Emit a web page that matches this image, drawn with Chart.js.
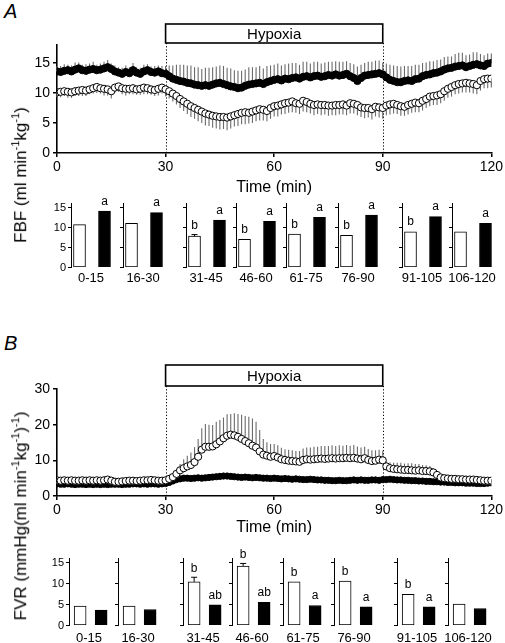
<!DOCTYPE html>
<html>
<head>
<meta charset="utf-8">
<script src="https://cdn.jsdelivr.net/npm/chart.js@4.4.1/dist/chart.umd.min.js"></script>
<style>
  body { margin:0; background:#fff; width:505px; height:643px; position:relative; overflow:hidden;
         font-family:"Liberation Sans", Arial, sans-serif; color:#000; }
  canvas { position:absolute; }
  .panel { position:absolute; font-style:italic; font-size:20px; color:#000; }
  .ytitle { position:absolute; white-space:nowrap; font-size:17px; color:#000; will-change:transform;
            transform:translate(-50%,-50%) rotate(-90deg); }
  .ytitle sup { font-size:11px; }
</style>
</head>
<body>
<div class="panel" style="left:4px;top:0px;">A</div>
<div class="panel" style="left:4px;top:332px;">B</div>
<div class="ytitle" style="left:20px;top:175px;">FBF (ml min<sup>-1</sup>kg<sup>-1</sup>)</div>
<div class="ytitle" style="left:20px;top:516px;">FVR (mmHg(ml min<sup>-1</sup>kg<sup>-1</sup>)<sup>-1</sup>)</div>

<canvas id="fbfTime" width="505" height="180" style="left:0;top:20px;"></canvas>
<canvas id="fvrTime" width="505" height="185" style="left:0;top:355px;"></canvas>

<script>
// ---- data ----
var hypoxiaRange = [30, 90];
var periods = ['0-15', '16-30', '31-45', '46-60', '61-75', '76-90', '91-105', '106-120'];
var barTicks = [0, 5, 10, 15];

// FBF time course, one value per minute (0..120)
var fbfOpen = [10.1,10.2,10.3,10.2,10.1,10.3,10.4,10.5,10.4,10.6,10.8,
  11.0,10.8,10.7,10.6,10.3,10.9,11.1,10.8,10.7,10.7,
  10.8,10.6,10.7,10.9,10.8,10.6,10.5,10.7,10.9,10.6,
  10.3,9.9,9.5,9.0,8.6,8.2,7.8,7.5,7.2,6.9,6.6,6.4,6.2,6.1,6.0,
  6.0,5.9,6.1,6.3,6.5,6.7,6.8,6.7,6.9,7.1,7.3,7.2,7.0,7.5,7.8,
  7.9,8.1,8.3,8.4,8.6,8.3,8.2,8.7,8.5,8.2,8.0,8.1,8.0,8.0,7.9,
  7.9,8.0,8.0,8.1,7.9,8.3,8.2,8.0,7.6,7.5,7.5,7.3,7.7,7.6,7.5,
  7.9,8.1,8.2,8.0,7.8,7.7,8.0,8.2,8.4,8.3,8.7,9.0,9.4,9.5,9.6,
  9.8,10.3,10.7,11.0,11.3,11.5,11.6,11.7,11.6,11.5,11.3,12.0,12.3,12.4,12.4];
var fbfOpenErr = [0.8,0.9,0.8,1.0,0.9,0.8,0.9,1.0,0.9,0.8,0.9,
  1.0,0.9,1.1,1.0,1.2,0.8,0.9,1.0,1.1,0.9,
  1.0,0.9,1.0,1.1,1.0,0.9,1.0,1.1,1.0,1.2,
  1.2,1.3,1.4,1.5,1.6,1.7,1.8,1.8,1.9,1.9,2.0,1.9,2.0,2.0,2.1,
  2.0,2.1,2.0,1.9,2.0,1.9,2.0,1.8,1.9,1.8,1.9,1.8,1.7,1.8,1.7,
  1.8,1.7,1.8,1.7,1.8,1.6,1.7,1.8,1.7,1.6,1.7,1.6,1.7,1.6,1.7,
  1.6,1.7,1.6,1.7,1.6,1.7,1.6,1.7,1.6,1.7,1.6,1.7,1.6,1.7,1.8,
  1.6,1.7,1.6,1.5,1.6,1.5,1.6,1.5,1.6,1.5,1.6,1.5,1.6,1.5,1.6,
  1.5,1.6,1.5,1.6,1.5,1.6,1.5,1.6,1.5,1.6,1.5,1.6,1.5,1.6,1.5];
var fbfFilled = [13.6,13.5,13.7,13.8,13.6,13.9,14.1,13.8,13.7,13.9,14.0,
  13.8,13.9,14.1,14.3,14.0,13.6,13.4,13.2,13.5,13.3,
  13.8,13.4,13.2,13.6,13.8,13.5,13.4,13.6,13.3,13.2,
  12.8,12.4,12.2,12.0,11.9,11.7,11.6,11.4,11.3,11.2,11.3,11.2,11.4,11.6,11.7,
  11.5,11.3,11.1,11.0,10.8,10.9,11.2,11.4,11.5,11.6,11.7,11.5,11.8,12.0,12.2,
  12.3,12.1,12.4,12.3,12.5,12.6,12.4,12.7,12.8,12.6,12.8,12.9,12.7,12.8,13.0,
  12.9,13.1,12.9,13.0,13.2,12.8,12.5,12.0,12.5,12.9,13.0,13.1,13.2,13.3,13.1,
  12.6,12.2,12.0,11.8,11.8,12.0,12.1,12.0,12.3,12.4,12.8,13.0,13.1,13.3,13.4,
  13.6,13.9,14.1,14.2,14.4,14.5,14.6,14.3,14.5,14.7,14.8,14.6,14.5,14.9,15.0];
var fbfFilledErr = [0.9,1.0,1.1,0.9,1.0,1.2,1.0,0.9,1.1,1.0,1.2,
  0.9,1.0,1.1,1.2,0.9,1.0,0.9,1.0,1.1,1.0,
  1.2,0.9,1.0,1.1,1.0,0.9,1.1,1.0,1.2,1.3,
  1.8,2.2,2.5,2.7,2.8,2.9,3.0,2.9,3.0,2.8,2.9,3.0,2.9,2.8,2.9,
  3.0,2.9,3.0,2.8,2.9,2.8,2.7,2.9,2.8,2.7,2.8,2.6,2.7,2.6,2.5,
  2.6,2.5,2.4,2.6,2.5,2.4,2.3,2.5,2.4,2.3,2.4,2.3,2.2,2.3,2.2,
  2.3,2.2,2.3,2.2,2.1,2.2,2.3,2.4,2.2,2.1,2.2,2.1,2.2,2.1,2.0,
  2.3,2.5,2.6,2.7,2.6,2.5,2.4,2.5,2.4,2.3,2.2,2.1,2.2,2.0,2.1,
  2.0,2.1,2.0,1.9,2.1,2.2,2.1,2.0,1.9,2.1,2.0,1.9,1.8,1.7,1.6];

// FVR time course, one value per minute (0..120)
var fvrOpen = [4.4,4.3,4.4,4.3,4.4,4.3,4.3,4.4,4.3,4.4,4.3,
  4.4,4.3,4.4,4.6,4.3,4.0,4.0,4.1,4.2,4.3,
  4.3,4.2,4.3,4.4,4.4,4.5,4.4,4.3,4.3,4.4,
  4.8,5.3,6.2,7.2,7.8,8.3,8.7,9.5,11.0,13.0,13.8,13.8,13.9,14.5,15.3,
  16.2,16.9,17.2,17.0,16.6,16.0,15.4,14.8,14.1,13.6,12.5,11.6,11.3,11.0,11.2,
  10.8,10.3,10.1,9.9,9.8,9.7,9.6,10.1,10.3,10.2,10.3,10.4,10.5,10.4,10.5,
  10.6,10.5,10.6,10.6,10.7,10.6,10.7,10.5,10.3,10.6,10.1,9.8,9.9,10.2,10.0,
  8.3,7.8,7.6,7.5,7.4,7.3,7.3,7.2,7.1,7.2,7.0,7.0,6.9,6.6,5.9,
  5.2,5.0,4.9,4.8,4.8,4.7,4.7,4.6,4.6,4.6,4.5,4.4,4.3,4.3,4.3];
var fvrOpenErr = [0.3,0.3,0.3,0.3,0.3,0.3,0.3,0.3,0.3,0.3,0.3,
  0.3,0.3,0.3,0.3,0.3,0.3,0.3,0.3,0.3,0.3,
  0.3,0.3,0.3,0.3,0.3,0.3,0.3,0.3,0.3,0.3,
  0.4,0.6,1.2,1.8,2.5,3.0,3.5,4.2,5.0,6.0,6.4,6.2,6.0,6.3,6.0,
  5.8,6.0,5.8,6.2,6.4,6.8,7.0,7.4,7.6,7.2,6.0,4.4,3.8,3.6,3.4,
  3.4,3.2,3.0,3.1,3.0,2.9,3.0,3.2,3.3,3.4,3.5,3.4,3.5,3.6,3.5,
  3.6,3.5,3.6,3.5,3.6,3.5,3.6,3.4,3.3,3.2,3.1,3.0,2.9,2.8,2.7,
  1.4,1.6,1.7,1.8,1.9,1.8,1.9,2.0,1.9,1.8,1.7,1.6,1.5,1.2,0.6,
  0.4,0.3,0.3,0.3,0.3,0.3,0.3,0.3,0.3,0.3,0.3,0.3,0.3,0.3,0.3];
var fvrFilled = [3.4,3.3,3.3,3.4,3.3,3.2,3.3,3.3,3.2,3.3,3.2,
  3.3,3.2,3.3,3.2,3.3,3.3,3.3,3.2,3.3,3.3,
  3.4,3.4,3.3,3.4,3.3,3.4,3.4,3.3,3.4,3.5,
  3.8,4.2,4.6,4.8,5.0,5.0,4.9,5.0,5.1,5.0,5.1,5.2,5.3,5.4,5.5,
  5.6,5.6,5.5,5.4,5.3,5.2,5.3,5.2,5.1,5.2,5.1,5.0,5.0,4.9,5.0,
  4.9,4.8,4.9,4.8,4.7,4.8,4.7,4.6,4.6,4.7,4.6,4.5,4.5,4.4,4.4,
  4.3,4.3,4.4,4.3,4.3,4.4,4.5,4.4,4.5,4.4,4.4,4.5,4.5,4.4,4.6,
  4.6,4.7,4.6,4.5,4.5,4.4,4.4,4.3,4.3,4.2,4.2,4.1,4.1,4.0,4.0,
  3.9,3.9,3.8,3.8,3.7,3.7,3.7,3.6,3.6,3.6,3.5,3.5,3.5,3.6,3.7];
var fvrFilledErr = [0.5,0.6,0.5,0.6,0.5,0.6,0.5,0.6,0.5,0.6,0.5,
  0.6,0.5,0.6,0.5,0.6,0.5,0.6,0.5,0.6,0.5,
  0.6,0.5,0.6,0.5,0.6,0.5,0.6,0.5,0.6,0.6,
  0.7,0.7,0.8,0.8,0.8,0.9,0.8,0.9,0.8,0.9,0.8,0.9,0.9,0.9,0.9,
  0.9,0.9,0.8,0.9,0.8,0.8,0.8,0.7,0.8,0.7,0.8,0.7,0.7,0.7,0.7,
  0.7,0.7,0.6,0.7,0.6,0.7,0.6,0.7,0.6,0.6,0.6,0.6,0.6,0.6,0.6,
  0.6,0.6,0.6,0.6,0.6,0.6,0.7,0.6,0.7,0.6,0.6,0.7,0.6,0.6,0.7,
  0.7,0.7,0.6,0.6,0.6,0.6,0.6,0.5,0.6,0.5,0.5,0.5,0.5,0.5,0.5,
  0.5,0.5,0.5,0.5,0.5,0.5,0.5,0.5,0.5,0.5,0.5,0.5,0.5,0.5,0.5];

// 15-min period means
var fbfBarOpen = [10.6, 10.9, 7.7, 6.9, 8.2, 7.9, 8.8, 8.8];
var fbfBarOpenErr = [0.1, 0.1, 0.4, 0.2, 0.2, 0.2, 0.3, 0.2];
var fbfBarFilled = [14.0, 13.6, 11.7, 11.4, 12.4, 13.0, 12.6, 10.9];
var fbfBarFilledErr = [0.1, 0.2, 0.2, 0.1, 0.2, 0.2, 0.2, 0.1];
var fbfSigOpen = ['', '', 'b', 'b', 'b', 'b', 'b', ''];
var fbfSigFilled = ['a', 'a', 'a', 'a', 'a', 'a', 'a', 'a'];

var fvrBarOpen = [4.5, 4.5, 10.3, 14.1, 10.3, 10.5, 7.3, 5.0];
var fvrBarOpenErr = [0.1, 0.1, 1.1, 0.6, 0.1, 0.1, 0.1, 0.1];
var fvrBarFilled = [3.55, 3.7, 4.8, 5.4, 4.65, 4.35, 4.35, 3.95];
var fvrBarFilledErr = [0.1, 0.1, 0.1, 0.1, 0.1, 0.1, 0.1, 0.1];
var fvrSigOpen = ['', '', 'b', 'b', 'b', 'b', 'b', ''];
var fvrSigFilled = ['', '', 'ab', 'ab', 'a', 'a', 'a', ''];

// ---- layout ----
var FONT = '"Liberation Sans", Arial, sans-serif';
var fbfAxisX = [71, 123, 186, 236, 286, 338, 402, 452];
var fvrAxisX = [69, 118, 183, 232, 283, 334, 397, 448];

var minutes = [];
for (var m = 0; m <= 120; m++) minutes.push(m);

function pts(vals) {
  return vals.map(function (v, i) { return { x: minutes[i], y: v }; });
}

// vertical error lines drawn under the markers
var errorLines = {
  id: 'errorLines',
  beforeDatasetsDraw: function (chart) {
    var ctx = chart.ctx, ys = chart.scales.y;
    chart.data.datasets.forEach(function (ds, di) {
      if (!ds.err) return;
      var meta = chart.getDatasetMeta(di);
      ctx.save();
      ctx.strokeStyle = '#6b6b6b';
      ctx.lineWidth = 1.1;
      meta.data.forEach(function (pt, i) {
        var y2 = ys.getPixelForValue(ds.data[i].y + ds.errDir * ds.err[i]);
        ctx.beginPath();
        ctx.moveTo(pt.x, pt.y);
        ctx.lineTo(pt.x, y2);
        ctx.stroke();
      });
      ctx.restore();
    });
  }
};

// hypoxia bar + dotted markers
var hypoxiaBox = {
  id: 'hypoxiaBox',
  beforeDatasetsDraw: function (chart, args, opts) {
    var ctx = chart.ctx, xs = chart.scales.x, ca = chart.chartArea;
    ctx.save();
    ctx.strokeStyle = '#000';
    ctx.lineWidth = 1;
    ctx.setLineDash([1.2, 2]);
    hypoxiaRange.forEach(function (v) {
      var px = Math.round(xs.getPixelForValue(v)) + 0.5;
      ctx.beginPath();
      ctx.moveTo(px, opts.bottom);
      ctx.lineTo(px, ca.bottom);
      ctx.stroke();
    });
    ctx.restore();
  },
  afterDraw: function (chart, args, opts) {
    var ctx = chart.ctx, xs = chart.scales.x;
    var x1 = xs.getPixelForValue(hypoxiaRange[0]), x2 = xs.getPixelForValue(hypoxiaRange[1]);
    ctx.save();
    ctx.lineWidth = 1.6;
    ctx.strokeStyle = '#000';
    ctx.strokeRect(x1, opts.top, x2 - x1, opts.bottom - opts.top);
    ctx.fillStyle = '#000';
    ctx.font = '15px ' + FONT;
    ctx.textAlign = 'center';
    ctx.textBaseline = 'middle';
    ctx.fillText('Hypoxia', (x1 + x2) / 2, (opts.top + opts.bottom) / 2 + 1);
    ctx.restore();
  }
};

function timeChart(id, openVals, openErr, openDir, filledVals, filledErr, filledDir, yMax, yStep, padTop, boxTop, boxBottom, xHeight, filledRadius) {
  return new Chart(document.getElementById(id), {
    type: 'scatter',
    data: {
      datasets: [
        { label: 'open', data: pts(openVals), err: openErr, errDir: openDir, order: 1,
          pointRadius: 3.6, pointBackgroundColor: '#fff', pointBorderColor: '#000', pointBorderWidth: 1 },
        { label: 'filled', data: pts(filledVals), err: filledErr, errDir: filledDir, order: 2,
          pointRadius: filledRadius, pointBackgroundColor: '#000', pointBorderColor: '#000', pointBorderWidth: 1 }
      ]
    },
    options: {
      responsive: false,
      animation: false,
      layout: { padding: { top: padTop, right: 12, left: 0, bottom: 0 } },
      plugins: {
        legend: { display: false },
        tooltip: { enabled: false },
        hypoxiaBox: { top: boxTop, bottom: boxBottom }
      },
      scales: {
        x: {
          type: 'linear', min: 0, max: 120,
          ticks: { stepSize: 30, color: '#000', font: { size: 14, family: FONT }, padding: 2, maxRotation: 0 },
          grid: { display: true, drawOnChartArea: false, color: '#000', tickLength: 4, lineWidth: 1.5 },
          border: { color: '#000', width: 1.6 },
          title: { display: true, text: 'Time (min)', color: '#000', font: { size: 16, family: FONT }, padding: { top: 0, bottom: 3 } },
          afterFit: function (s) { s.height = xHeight; }
        },
        y: {
          min: 0, max: yMax,
          ticks: { stepSize: yStep, color: '#000', font: { size: 14, family: FONT }, padding: 3 },
          grid: { display: true, drawOnChartArea: false, color: '#000', tickLength: 4, lineWidth: 1.5 },
          border: { color: '#000', width: 1.6 },
          afterBuildTicks: function (s) { s.ticks = s.ticks.filter(function (t) { return t.value % yStep === 0; }); },
          afterFit: function (s) { s.width = 57; }
        }
      }
    },
    plugins: [errorLines, hypoxiaBox]
  });
}

timeChart('fbfTime', fbfOpen, fbfOpenErr, -1, fbfFilled, fbfFilledErr, 1, 18, 5, 25, 4, 23, 47, 3.6);
timeChart('fvrTime', fvrOpen, fvrOpenErr, 1, fvrFilled, fvrFilledErr, 1, 30, 10, 34, 10, 31, 44, 3.1);

// small period bar panels: axis ticks, error caps, letters and period label
var barMarks = {
  id: 'barMarks',
  afterDatasetsDraw: function (chart, args, opts) {
    var ctx = chart.ctx, ys = chart.scales.y, ca = chart.chartArea, meta = chart.getDatasetMeta(0);
    ctx.save();
    ctx.strokeStyle = '#000';
    ctx.fillStyle = '#000';
    ctx.lineWidth = 1;
    // y ticks (labels only on the first panel of a row)
    ctx.font = '11px ' + FONT;
    ctx.textAlign = 'right';
    ctx.textBaseline = 'middle';
    barTicks.forEach(function (t) {
      var py = Math.round(ys.getPixelForValue(t)) + 0.5;
      ctx.beginPath();
      ctx.moveTo(ca.left - 3, py);
      ctx.lineTo(ca.left, py);
      ctx.stroke();
      if (opts.showLabels) ctx.fillText(String(t), ca.left - 5, py);
    });
    ctx.font = '12px ' + FONT;
    ctx.textAlign = 'center';
    ctx.textBaseline = 'bottom';
    meta.data.forEach(function (bar, i) {
      var v = opts.vals[i], e = opts.errs[i];
      var top = ys.getPixelForValue(v + e);
      if (e > 0.3) {
        ctx.beginPath();
        ctx.moveTo(bar.x, ys.getPixelForValue(v));
        ctx.lineTo(bar.x, top);
        ctx.moveTo(bar.x - 3, top);
        ctx.lineTo(bar.x + 3, top);
        ctx.stroke();
      }
      if (opts.sig[i]) ctx.fillText(opts.sig[i], bar.x, top - 3);
    });
    ctx.font = '13px ' + FONT;
    ctx.textBaseline = 'middle';
    ctx.fillText(opts.label, ca.left + 20, opts.labelY);
    ctx.restore();
  }
};

function periodPanel(left, top, height, padTop, xHeight, labelY, xMin, xMax, vals, errs, sig, label, showLabels) {
  var c = document.createElement('canvas');
  c.width = 90; c.height = height;
  c.style.left = (left - 26) + 'px';
  c.style.top = top + 'px';
  document.body.appendChild(c);
  new Chart(c, {
    type: 'bar',
    data: {
      datasets: [{
        data: [{ x: 0, y: vals[0] }, { x: 1, y: vals[1] }],
        backgroundColor: ['#fff', '#000'],
        borderColor: '#000',
        borderWidth: 1,
        borderSkipped: false,
        barThickness: 12
      }]
    },
    options: {
      responsive: false,
      animation: false,
      layout: { padding: { top: padTop, right: 22, left: 0, bottom: 0 } },
      plugins: {
        legend: { display: false },
        tooltip: { enabled: false },
        barMarks: { vals: vals, errs: errs, sig: sig, label: label, labelY: labelY, showLabels: showLabels }
      },
      scales: {
        x: {
          type: 'linear', min: xMin, max: xMax, offset: false,
          ticks: { display: false },
          grid: { display: false },
          border: { display: false },
          afterFit: function (s) { s.height = xHeight; }
        },
        y: {
          min: 0, max: 16,
          ticks: { display: false },
          grid: { display: false },
          border: { color: '#000', width: 1 },
          afterFit: function (s) { s.width = 26; }
        }
      }
    },
    plugins: [barMarks]
  });
}

for (var i = 0; i < periods.length; i++) {
  periodPanel(fbfAxisX[i], 195, 95, 8, 23, 83, -0.34, 1.34,
    [fbfBarOpen[i], fbfBarFilled[i]], [fbfBarOpenErr[i], fbfBarFilledErr[i]],
    [fbfSigOpen[i], fbfSigFilled[i]], periods[i], i === 0);
  periodPanel(fvrAxisX[i], 545, 100, 13, 20, 93, -0.53, 1.47,
    [fvrBarOpen[i], fvrBarFilled[i]], [fvrBarOpenErr[i], fvrBarFilledErr[i]],
    [fvrSigOpen[i], fvrSigFilled[i]], periods[i], i === 0);
}
</script>
</body>
</html>
